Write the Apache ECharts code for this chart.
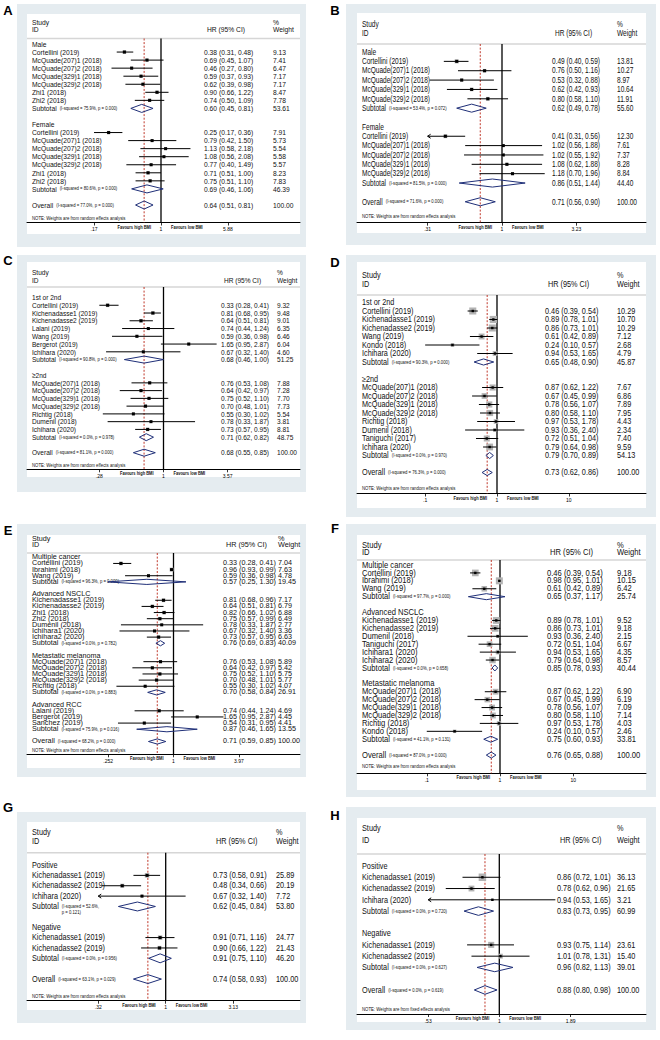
<!DOCTYPE html>
<html><head><meta charset="utf-8">
<script src="https://cdn.jsdelivr.net/npm/echarts@6/dist/echarts.min.js"></script>
<style>html,body{margin:0;padding:0;background:#fff}#c{width:660px;height:1040px}</style>
</head><body><div id="c"></div>
<script>
// ---------------- DATA ----------------
const NOTE_RANDOM = 'NOTE: Weights are from random effects analysis';
const NOTE_FIXED = 'NOTE: Weights are from fixed effects analysis';

// Panel A
const A_labels = ['Male','Cortellini (2019)','McQuade(207)1 (2018)','McQuade(207)2 (2018)','McQuade(329)1 (2018)','McQuade(329)2 (2018)','Zhi1 (2018)','Zhi2 (2018)','Subtotal','','Female','Cortellini (2019)','McQuade(207)1 (2018)','McQuade(207)2 (2018)','McQuade(329)1 (2018)','McQuade(329)2 (2018)','Zhi1 (2018)','Zhi2 (2018)','Subtotal','','Overall'];
const A_hr = [null,0.38,0.69,0.46,0.59,0.62,0.90,0.74,0.60,null,null,0.25,0.79,1.13,1.08,0.77,0.71,0.75,0.69,null,0.64];
const A_lo = [null,0.31,0.45,0.27,0.37,0.39,0.66,0.50,0.45,null,null,0.17,0.42,0.58,0.56,0.40,0.51,0.51,0.46,null,0.51];
const A_hi = [null,0.48,1.07,0.80,0.93,0.98,1.22,1.09,0.81,null,null,0.36,1.50,2.18,2.08,1.49,1.00,1.10,1.06,null,0.81];
const A_wt = [null,9.13,7.41,6.47,7.17,7.17,8.47,7.78,53.61,null,null,7.91,5.73,5.54,5.58,5.57,8.23,7.83,46.39,null,100.00];
const A_het = ['(I-squared = 75.9%, p = 0.000)','(I-squared = 80.6%, p = 0.000)','(I-squared = 77.0%, p = 0.000)'];
const A_ticks = [0.17, 1, 5.88];
const A_tickText = ['.17','1','5.88'];
const A_arrow = [];

// Panel B
const B_labels = ['Male','Cortellini (2019)','McQuade(207)1 (2018)','McQuade(207)2 (2018)','McQuade(329)1 (2018)','McQuade(329)2 (2018)','Subtotal','','Female','Cortellini (2019)','McQuade(207)1 (2018)','McQuade(207)2 (2018)','McQuade(329)1 (2018)','McQuade(329)2 (2018)','Subtotal','','Overall'];
const B_hr = [null,0.49,0.76,0.53,0.62,0.80,0.62,null,null,0.41,1.02,1.02,1.08,1.18,0.86,null,0.71];
const B_lo = [null,0.40,0.50,0.32,0.42,0.58,0.49,null,null,0.31,0.56,0.55,0.62,0.70,0.51,null,0.56];
const B_hi = [null,0.59,1.16,0.88,0.93,1.10,0.78,null,null,0.56,1.88,1.92,1.88,1.96,1.44,null,0.90];
const B_wt = [null,13.81,10.27,8.97,10.64,11.91,55.60,null,null,12.30,7.61,7.37,8.28,8.84,44.40,null,100.00];
const B_het = ['(I-squared = 53.4%, p = 0.072)','(I-squared = 81.5%, p = 0.000)','(I-squared = 71.6%, p = 0.000)'];
const B_ticks = [0.31, 1, 3.23];
const B_tickText = ['.31','1','3.23'];
const B_arrow = [9];

// Panel C
const C_labels = ['1st or 2nd','Cortellini (2019)','Kichenadasse1 (2019)','Kichenadasse2 (2019)','Lalani (2019)','Wang (2019)','Bergerot (2019)','Ichihara (2020)','Subtotal','','\u22652nd','McQuade(207)1 (2018)','McQuade(207)2 (2018)','McQuade(329)1 (2018)','McQuade(329)2 (2018)','Richtig (2018)','Dumenil (2018)','Ichihara (2020)','Subtotal','','Overall'];
const C_hr = [null,0.33,0.81,0.64,0.74,0.59,1.65,0.67,0.68,null,null,0.76,0.64,0.75,0.70,0.55,0.78,0.73,0.71,null,0.68];
const C_lo = [null,0.28,0.68,0.51,0.44,0.36,0.95,0.32,0.46,null,null,0.53,0.42,0.52,0.48,0.30,0.33,0.57,0.62,null,0.55];
const C_hi = [null,0.41,0.95,0.81,1.24,0.98,2.87,1.40,1.00,null,null,1.08,0.97,1.10,1.01,1.02,1.87,0.95,0.82,null,0.85];
const C_wt = [null,9.32,9.48,9.01,6.35,6.46,6.04,4.60,51.25,null,null,7.88,7.28,7.70,7.73,5.54,3.81,8.81,48.75,null,100.00];
const C_het = ['(I-squared = 90.8%, p = 0.000)','(I-squared = 0.0%, p = 0.978)','(I-squared = 81.1%, p = 0.000)'];
const C_ticks = [0.28, 1, 3.57];
const C_tickText = ['.28','1','3.57'];
const C_arrow = [];

// Panel D
const D_labels = ['1st or 2nd','Cortellini (2019)','Kichenadasse1 (2019)','Kichenadasse2 (2019)','Wang (2019)','Kondo (2018)','Ichihara (2020)','Subtotal','','\u22652nd','McQuade(207)1 (2018)','McQuade(207)2 (2018)','McQuade(329)1 (2018)','McQuade(329)2 (2018)','Richtig (2018)','Dumenil (2018)','Taniguchi (2017)','Ichihara (2020)','Subtotal','','Overall'];
const D_hr = [null,0.46,0.89,0.86,0.61,0.24,0.94,0.65,null,null,0.87,0.67,0.78,0.80,0.97,0.93,0.72,0.79,0.79,null,0.73];
const D_lo = [null,0.39,0.78,0.73,0.42,0.10,0.53,0.48,null,null,0.62,0.45,0.56,0.58,0.53,0.36,0.51,0.64,0.70,null,0.62];
const D_hi = [null,0.54,1.01,1.01,0.89,0.57,1.65,0.90,null,null,1.22,0.99,1.07,1.10,1.78,2.40,1.04,0.98,0.89,null,0.86];
const D_wt = [null,10.29,10.70,10.29,7.12,2.68,4.79,45.87,null,null,7.67,6.86,7.89,7.95,4.43,2.34,7.40,9.59,54.13,null,100.00];
const D_het = ['(I-squared = 90.3%, p = 0.000)','(I-squared = 0.0%, p = 0.970)','(I-squared = 76.3%, p = 0.000)'];
const D_ticks = [0.1, 1, 10];
const D_tickText = ['.1','1','10'];
const D_arrow = [];

// Panel E
const E_labels = ['Multiple cancer','Cortellini (2019)','Ibrahimi (2018)','Wang (2019)','Subtotal','','Advanced NSCLC','Kichenadasse1 (2019)','Kichenadasse2 (2019)','Zhi1 (2018)','Zhi2 (2018)','Dumenil (2018)','Ichihara1 (2020)','Ichihara2 (2020)','Subtotal','','Metastatic melanoma','McQuade(207)1 (2018)','McQuade(207)2 (2018)','McQuade(329)1 (2018)','McQuade(329)2 (2018)','Richtig (2018)','Subtotal','','Advanced RCC','Lalani (2019)','Bergerot (2019)','Sanchez (2019)','Subtotal','','Overall'];
const E_hr = [null,0.33,0.96,0.59,0.57,null,null,0.81,0.64,0.82,0.75,0.78,0.67,0.73,0.76,null,null,0.76,0.64,0.75,0.70,0.55,0.70,null,null,0.74,1.65,0.54,0.87,null,0.71];
const E_lo = [null,0.28,0.93,0.36,0.25,null,null,0.68,0.51,0.66,0.57,0.33,0.32,0.57,0.69,null,null,0.53,0.42,0.52,0.48,0.30,0.58,null,null,0.44,0.95,0.31,0.46,null,0.59];
const E_hi = [null,0.41,0.99,0.98,1.30,null,null,0.96,0.81,1.02,0.99,1.87,1.40,0.95,0.83,null,null,1.08,0.97,1.10,1.01,1.02,0.84,null,null,1.24,2.87,0.95,1.65,null,0.85];
const E_wt = [null,7.04,7.63,4.78,19.45,null,null,7.17,6.79,6.88,6.49,2.77,3.36,6.63,40.09,null,null,5.89,5.42,5.75,5.77,4.07,26.91,null,null,4.69,4.45,4.41,13.55,null,100.00];
const E_het = ['(I-squared = 96.3%, p = 0.000)','(I-squared = 0.0%, p = 0.782)','(I-squared = 0.0%, p = 0.883)','(I-squared = 75.9%, p = 0.016)','(I-squared = 68.2%, p = 0.000)'];
const E_ticks = [0.252, 1, 3.97];
const E_tickText = ['.252','1','3.97'];
const E_arrow = [];

// Panel F
const F_labels = ['Multiple cancer','Cortellini (2019)','Ibrahimi (2018)','Wang (2019)','Subtotal','','Advanced NSCLC','Kichenadasse1 (2019)','Kichenadasse2 (2019)','Dumenil (2018)','Taniguchi (2017)','Ichihara1 (2020)','Ichihara2 (2020)','Subtotal','','Metastatic melanoma','McQuade(207)1 (2018)','McQuade(207)2 (2018)','McQuade(329)1 (2018)','McQuade(329)2 (2018)','Richtig (2018)','Kondo (2018)','Subtotal','','Overall'];
const F_hr = [null,0.46,0.98,0.61,0.65,null,null,0.89,0.86,0.93,0.72,0.94,0.79,0.85,null,null,0.87,0.67,0.78,0.80,0.97,0.24,0.75,null,0.76];
const F_lo = [null,0.39,0.95,0.42,0.37,null,null,0.78,0.73,0.36,0.51,0.53,0.64,0.78,null,null,0.62,0.45,0.56,0.58,0.53,0.10,0.60,null,0.65];
const F_hi = [null,0.54,1.01,0.89,1.17,null,null,1.01,1.01,2.40,1.04,1.65,0.98,0.93,null,null,1.22,0.99,1.07,1.10,1.78,0.57,0.93,null,0.88];
const F_wt = [null,9.18,10.15,6.42,25.74,null,null,9.52,9.18,2.15,6.67,4.35,8.57,40.44,null,null,6.90,6.19,7.09,7.14,4.03,2.46,33.81,null,100.00];
const F_het = ['(I-squared = 97.7%, p = 0.000)','(I-squared = 0.0%, p = 0.658)','(I-squared = 41.1%, p = 0.131)','(I-squared = 87.0%, p = 0.000)'];
const F_ticks = [0.1, 1, 10];
const F_tickText = ['.1','1','10'];
const F_arrow = [];

// Panel G
const G_labels = ['Positive','Kichenadasse1 (2019)','Kichenadasse2 (2019)','Ichihara (2020)','Subtotal','','Negative','Kichenadasse1 (2019)','Kichenadasse2 (2019)','Subtotal','','Overall'];
const G_hr = [null,0.73,0.48,0.67,0.62,null,null,0.91,0.90,0.91,null,0.74];
const G_lo = [null,0.58,0.34,0.32,0.45,null,null,0.71,0.66,0.75,null,0.58];
const G_hi = [null,0.91,0.66,1.40,0.84,null,null,1.16,1.22,1.10,null,0.93];
const G_wt = [null,25.89,20.19,7.72,53.80,null,null,24.77,21.43,46.20,null,100.00];
const G_het = ['(I-squared = 52.6%,\np = 0.121)','(I-squared = 0.0%, p = 0.956)','(I-squared = 63.1%, p = 0.029)'];
const G_ticks = [0.32, 1, 3.13];
const G_tickText = ['.32','1','3.13'];
const G_arrow = [3];

// Panel H
const H_labels = ['Positive','Kichenadasse1 (2019)','Kichenadasse2 (2019)','Ichihara (2020)','Subtotal','','Negative','Kichenadasse1 (2019)','Kichenadasse2 (2019)','Subtotal','','Overall'];
const H_hr = [null,0.86,0.78,0.94,0.83,null,null,0.93,1.01,0.96,null,0.88];
const H_lo = [null,0.72,0.62,0.53,0.73,null,null,0.75,0.78,0.82,null,0.80];
const H_hi = [null,1.01,0.96,1.65,0.95,null,null,1.14,1.31,1.13,null,0.98];
const H_wt = [null,36.13,21.65,3.21,60.99,null,null,23.61,15.40,39.01,null,100.00];
const H_het = ['(I-squared = 0.0%, p = 0.720)','(I-squared = 0.0%, p = 0.627)','(I-squared = 0.0%, p = 0.619)'];
const H_ticks = [0.53, 1, 1.89];
const H_tickText = ['.53','1','1.89'];
const H_arrow = [3];

// ---------------- LAYOUT ----------------
const FONT = "'Liberation Sans', Arial, Helvetica, sans-serif";
const BG = '#e5ecf0';
const L = {
  A:{letter:[8,10], bg:[17,4,289,243], white:[27,14,273,220], hdr:38.5, axisY:222.5, y0:44, h:8.05, x1:161, k:37.8, cLab:32, cHR:204, cW:273, yStudy:22, yID:29.5, fs:8, sx:0.84, sy:1, box:1.2, dot:3, dia:0.5, note:3.8},
  B:{letter:[335,10], bg:[346,4,310,241], white:[357,13,289,220], hdr:44, axisY:222.7, y0:52, h:9.36, x1:502, k:63.5, cLab:362, cHR:552, cW:617, yStudy:24, yID:33, fs:8.2, sx:0.8, sy:1, box:1.1, dot:3, dia:0.43, note:6.5},
  C:{letter:[8,260], bg:[17,255,289,237], white:[27,262,273,215], hdr:287, axisY:469.3, y0:297.5, h:7.76, x1:163.5, k:50.4, cLab:32, cHR:221, cW:277, yStudy:272.7, yID:280, fs:7.8, sx:0.84, sy:1, box:1.2, dot:3, dia:0.45, note:3.8},
  D:{letter:[335,262], bg:[346,255,310,262], white:[357,262,289,246], hdr:295, axisY:493.5, y0:302.5, h:8.5, x1:497, k:31.2, cLab:362, cHR:545, cW:617, yStudy:275.5, yID:284, fs:8.2, sx:0.89, sy:1, box:2.2, dot:2.4, dia:0.36, note:5.5},
  E:{letter:[8,530], bg:[17,524,289,253], white:[27,535,273,233], hdr:553, axisY:754.3, y0:557.3, h:6.14, x1:173.5, k:47.4, cLab:32, cHR:223, cW:278, yStudy:539, yID:545, fs:8.7, sx:0.83, sy:0.8, box:1.4, dot:3, dia:0.42, note:4.3},
  F:{letter:[335,528], bg:[346,524,310,273], white:[357,535,289,255], hdr:560, axisY:773.3, y0:565, h:7.92, x1:500, k:31.8, cLab:362, cHR:547, cW:617, yStudy:545, yID:552, fs:8.2, sx:0.93, sy:1, box:2.2, dot:2.4, dia:0.38, note:6.5},
  G:{letter:[8,807], bg:[17,812,289,211], white:[27,822,273,188], hdr:852.7, axisY:1000.7, y0:865, h:10.37, x1:165.7, k:59.2, cLab:32, cHR:213, cW:276, yStudy:832.3, yID:841.7, fs:8.6, sx:0.85, sy:1, box:0.9, dot:3, dia:0.43, note:4.2},
  H:{letter:[335,815], bg:[346,807,310,223], white:[357,818,289,204], hdr:854, axisY:1014, y0:866, h:11.27, x1:499.3, k:112, cLab:362, cHR:557, cW:617, yStudy:828.3, yID:840.7, fs:8.6, sx:0.85, sy:1, box:1.25, dot:2.4, dia:0.38, note:4.2}
};
const D = {
  A:{labels:A_labels,hr:A_hr,lo:A_lo,hi:A_hi,wt:A_wt,het:A_het,ticks:A_ticks,tickText:A_tickText,arrow:A_arrow,note:NOTE_RANDOM},
  B:{labels:B_labels,hr:B_hr,lo:B_lo,hi:B_hi,wt:B_wt,het:B_het,ticks:B_ticks,tickText:B_tickText,arrow:B_arrow,note:NOTE_RANDOM},
  C:{labels:C_labels,hr:C_hr,lo:C_lo,hi:C_hi,wt:C_wt,het:C_het,ticks:C_ticks,tickText:C_tickText,arrow:C_arrow,note:NOTE_RANDOM},
  D:{labels:D_labels,hr:D_hr,lo:D_lo,hi:D_hi,wt:D_wt,het:D_het,ticks:D_ticks,tickText:D_tickText,arrow:D_arrow,note:NOTE_RANDOM},
  E:{labels:E_labels,hr:E_hr,lo:E_lo,hi:E_hi,wt:E_wt,het:E_het,ticks:E_ticks,tickText:E_tickText,arrow:E_arrow,note:NOTE_RANDOM},
  F:{labels:F_labels,hr:F_hr,lo:F_lo,hi:F_hi,wt:F_wt,het:F_het,ticks:F_ticks,tickText:F_tickText,arrow:F_arrow,note:NOTE_RANDOM},
  G:{labels:G_labels,hr:G_hr,lo:G_lo,hi:G_hi,wt:G_wt,het:G_het,ticks:G_ticks,tickText:G_tickText,arrow:G_arrow,note:NOTE_RANDOM},
  H:{labels:H_labels,hr:H_hr,lo:H_lo,hi:H_hi,wt:H_wt,het:H_het,ticks:H_ticks,tickText:H_tickText,arrow:H_arrow,note:NOTE_FIXED}
};

// ---------------- HELPERS ----------------
const mctx = document.createElement('canvas').getContext('2d');
function tw(text, size, weight) {
  mctx.font = (weight || 'normal') + ' ' + size + 'px ' + FONT;
  return mctx.measureText(text).width;
}
function T(text, x, y, o) {
  o = o || {};
  const al = o.align || 'left', va = o.va || 'middle';
  return {type:'text', x:x, y:y, scaleX:o.sx || 1, scaleY:o.sy || 1,
    style:{text:text, fill:'#111', fontSize:o.fs || 8, fontFamily:FONT, fontWeight:o.weight || 'normal',
      align:al, textAlign:al, verticalAlign:va, textVerticalAlign:va, lineHeight:o.lh || undefined}};
}
const isDia = s => s === 'Subtotal' || s === 'Overall';
const f2 = v => v.toFixed(2);

// ---------------- BUILD ----------------
const grids = [], xAxes = [], yAxes = [], series = [], graphics = [];
Object.keys(L).forEach((key, gi) => {
  const p = L[key], d = D[key];
  graphics.push({type:'rect', silent:true, z:-10, shape:{x:p.bg[0], y:p.bg[1], width:p.bg[2], height:p.bg[3]}, style:{fill:BG}});
  graphics.push({type:'rect', silent:true, z:-9, shape:{x:p.white[0], y:p.white[1], width:p.white[2], height:p.white[3]}, style:{fill:'#fff'}});
  graphics.push({type:'text', silent:true, z:-8, x:p.letter[0], y:p.letter[1],
    style:{text:key, fontSize:13, fontWeight:'bold', fontFamily:FONT, fill:'#000', align:'center', textAlign:'center', verticalAlign:'middle', textVerticalAlign:'middle'}});

  grids.push({left:p.white[0], top:p.hdr, width:p.white[2], height:p.axisY - p.hdr});
  const xmin = Math.exp(-(p.x1 - p.white[0]) / p.k);
  const xmax = Math.exp((p.white[0] + p.white[2] - p.x1) / p.k);
  xAxes.push({type:'log', logBase:10, gridIndex:gi, min:xmin, max:xmax,
    axisLine:{show:true, onZero:false, lineStyle:{color:'#000', width:1}},
    axisTick:{show:true, customValues:d.ticks, length:3, lineStyle:{color:'#000', width:0.8}},
    minorTick:{show:false}, splitLine:{show:false},
    axisLabel:{show:true, customValues:d.ticks, fontSize:5, fontFamily:FONT, color:'#000', margin:4, hideOverlap:false,
      formatter: v => {
        let best = 0, be = Infinity;
        d.ticks.forEach((t, i) => {
          const e = Math.min(Math.abs(v - t) / t, Math.abs(Math.pow(10, v) - t) / t);
          if (e < be) { be = e; best = i; }
        });
        return d.tickText[best];
      }}
  });
  yAxes.push({type:'value', gridIndex:gi, inverse:true, show:false,
    min:(p.hdr - p.y0) / p.h, max:(p.axisY - p.y0) / p.h});

  const base = {type:'custom', coordinateSystem:'cartesian2d', xAxisIndex:gi, yAxisIndex:gi, silent:true, animation:false};
  const tf = {fs:p.fs, sx:p.sx, sy:p.sy};

  // header, note, favours, header rule
  series.push(Object.assign({}, base, {
    data:[[1, 0]],
    renderItem:(params, api) => {
      const cs = params.coordSys, xOne = api.coord([1, 0])[0];
      const bottom = cs.y + cs.height;
      return {type:'group', children:[
        {type:'line', shape:{x1:cs.x, y1:cs.y, x2:cs.x + cs.width, y2:cs.y}, style:{stroke:'#d6d6d6', lineWidth:1.5}},
        T('Study', p.cLab, p.yStudy, tf), T('ID', p.cLab, p.yID, tf),
        T('HR (95% CI)', p.cHR + 3, p.yID, tf),
        T('%', p.cW, p.yStudy, tf), T('Weight', p.cW, p.yID, tf),
        T(d.note, p.cLab, bottom - p.note, {fs:4.7, sx:0.92}),
        T('Favours high BMI', xOne - 10, bottom + 4.5, {fs:4.7, sx:0.85, weight:'bold', align:'right'}),
        T('Favours low BMI', xOne + 10, bottom + 4.5, {fs:4.7, sx:0.85, weight:'bold'})
      ]};
    }
  }));

  // row texts
  const diaIdx = [];
  d.labels.forEach((s, i) => { if (isDia(s)) diaIdx.push(i); });
  series.push(Object.assign({}, base, {
    data:d.labels.map((s, i) => [1, i]),
    renderItem:(params, api) => {
      const i = params.dataIndex, y = api.coord([1, i])[1];
      const lab = d.labels[i], ch = [];
      if (lab) ch.push(T(lab, p.cLab, y, tf));
      if (d.hr[i] != null) {
        ch.push(T(f2(d.hr[i]) + ' (' + f2(d.lo[i]) + ', ' + f2(d.hi[i]) + ')', p.cHR, y, tf));
        ch.push(T(f2(d.wt[i]), p.cW, y, tf));
      }
      if (isDia(lab)) {
        const het = d.het[diaIdx.indexOf(i)];
        const hx = p.cLab + tw(lab, p.fs) * p.sx + 3;
        if (het.indexOf('\n') >= 0) ch.push(T(het, hx, y - 2.6, {fs:4.7, sx:0.9, va:'top', lh:5.6}));
        else ch.push(T(het, hx, y, {fs:4.7, sx:0.9}));
      }
      return {type:'group', children:ch};
    }
  }));

  // reference lines: null line at 1 and overall estimate
  const overall = d.hr[d.labels.indexOf('Overall')];
  series.push(Object.assign({}, base, {
    data:[[1, 0], [overall, 1]],
    renderItem:(params, api) => {
      const cs = params.coordSys, x = api.coord([api.value(0), 0])[0];
      const st = api.value(1) ? {stroke:'#c0392b', lineWidth:1, lineDash:[2, 1.6]} : {stroke:'#000', lineWidth:1.3};
      return {type:'line', shape:{x1:x, y1:cs.y, x2:x, y2:cs.y + cs.height}, style:st};
    }
  }));

  // diamonds
  series.push(Object.assign({}, base, {
    data:diaIdx.map(i => [d.hr[i], i, d.lo[i], d.hi[i]]),
    renderItem:(params, api) => {
      const hr = api.value(0), row = api.value(1), lo = api.value(2), hi = api.value(3);
      const pts = [api.coord([lo, row]), api.coord([hr, row - p.dia]), api.coord([hi, row]), api.coord([hr, row + p.dia])];
      return {type:'polygon', shape:{points:pts}, style:{fill:'none', stroke:'#1f2f78', lineWidth:1}};
    }
  }));

  // study estimates
  const tMin = d.ticks[0], tMax = d.ticks[d.ticks.length - 1];
  const studyRows = [];
  d.labels.forEach((s, i) => { if (d.hr[i] != null && !isDia(s)) studyRows.push(i); });
  series.push(Object.assign({}, base, {
    data:studyRows.map(i => [d.hr[i], i, d.lo[i], d.hi[i], d.wt[i], d.arrow.indexOf(i) >= 0 ? 1 : 0]),
    renderItem:(params, api) => {
      const hr = api.value(0), row = api.value(1), lo = api.value(2), hi = api.value(3), wt = api.value(4), fl = api.value(5);
      const c = api.coord([hr, row]), y = c[1];
      const xl = api.coord([Math.max(lo, tMin), row])[0];
      const xh = api.coord([Math.min(hi, tMax), row])[0];
      const bs = p.box * Math.sqrt(wt);
      const ch = [
        {type:'rect', shape:{x:c[0] - bs / 2, y:y - bs / 2, width:bs, height:bs}, style:{fill:'#b3b3b3'}},
        {type:'line', shape:{x1:xl, y1:y, x2:xh, y2:y}, style:{stroke:'#000', lineWidth:1}}
      ];
      if (fl || lo < tMin) ch.push({type:'polyline', shape:{points:[[xl + 3, y - 2], [xl, y], [xl + 3, y + 2]]}, style:{stroke:'#000', lineWidth:1, fill:'none'}});
      if (hi > tMax) ch.push({type:'polyline', shape:{points:[[xh - 3, y - 2], [xh, y], [xh - 3, y + 2]]}, style:{stroke:'#000', lineWidth:1, fill:'none'}});
      ch.push({type:'rect', shape:{x:c[0] - p.dot / 2, y:y - p.dot / 2, width:p.dot, height:p.dot}, style:{fill:'#000'}});
      return {type:'group', children:ch};
    }
  }));
});

const chart = echarts.init(document.getElementById('c'), null, {renderer:'svg'});
chart.setOption({
  animation:false,
  backgroundColor:'#fff',
  graphic:{elements:graphics},
  grid:grids, xAxis:xAxes, yAxis:yAxes, series:series
});
</script></body></html>
